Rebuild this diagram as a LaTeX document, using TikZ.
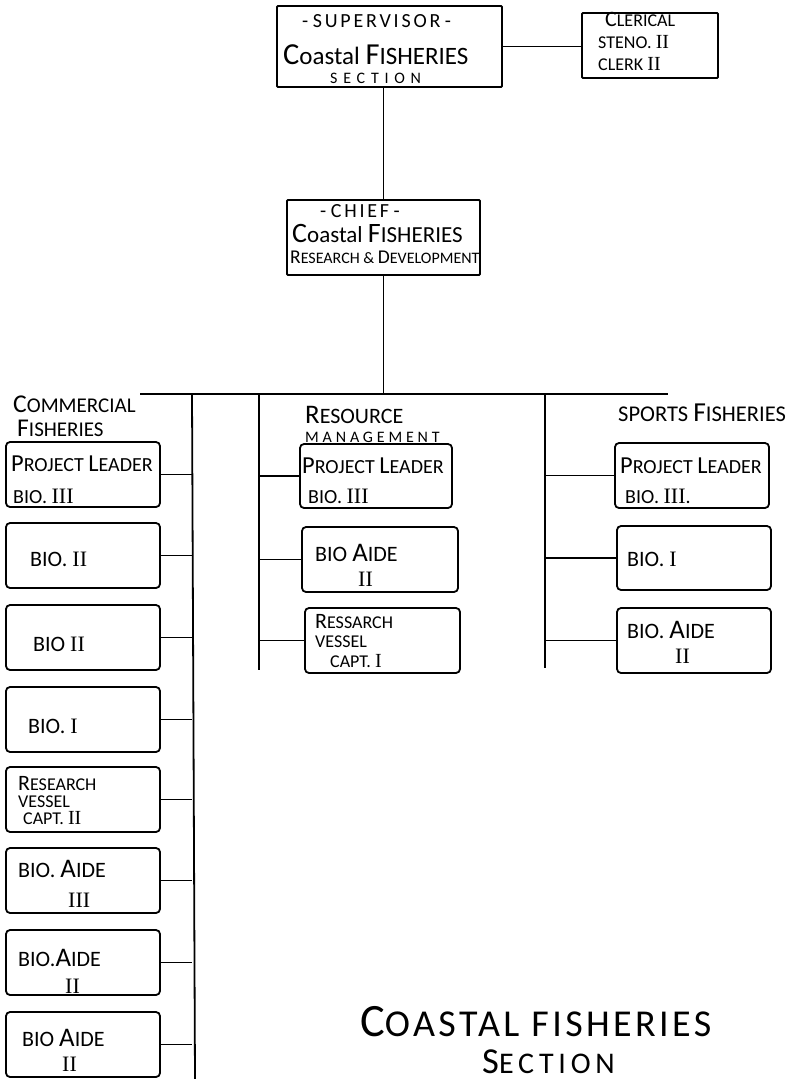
\documentclass[tikz,border=0pt]{standalone}
\usepackage{fontspec}
\usepackage{graphicx}
\setmainfont{Carlito}
\newfontfamily\numfont{Liberation Serif}
\newcommand\BI[1]{\scalebox{1.22}{#1}}
\newcommand\RN[1]{{\numfont\fontsize{22}{22}\selectfont #1}}
\newcommand\RNs[1]{{\numfont\fontsize{20}{20}\selectfont #1}}
\newcommand\LS[2]{{\addfontfeature{LetterSpace=#1}#2}}
\begin{document}
\begin{tikzpicture}[x=1pt,y=-1pt,
  ln/.style={line width=1.8pt},
  box/.style={draw, line width=1.8pt, rounded corners=4pt, inner sep=0pt},
  sqbox/.style={draw, line width=1.8pt, rounded corners=1pt, inner sep=0pt},
  tx/.style={anchor=west, inner sep=0pt, text height=12pt, text depth=0pt, font=\fontsize{20}{22}\selectfont},
  bt/.style={anchor=west, inner sep=0pt, text height=13pt, text depth=0pt, font=\fontsize{22}{24}\selectfont},
  sm/.style={anchor=west, inner sep=0pt, text height=11pt, text depth=0pt, font=\fontsize{18}{20}\selectfont},
  hd/.style={anchor=west, inner sep=0pt, text height=12pt, text depth=0pt, font=\fontsize{21}{23}\selectfont},
  ttl/.style={anchor=west, inner sep=0pt, text height=25pt, text depth=0pt, font=\fontsize{38}{40}\selectfont}]
\path[fill=white] (0,0) rectangle (793,1079);
\clip (0,0) rectangle (793,1079);

% top boxes
\node[sqbox, minimum width=225, minimum height=81] (sup) at (389.5,46.5) {};
\node[sqbox, minimum width=136, minimum height=65] (cler) at (650,45.5) {};
\node[sqbox, minimum width=193, minimum height=75] (chief) at (383.5,237.5) {};

\node[tx] (s1) at (302,21) {- \LS{14}{SUPERVISOR} -};
\node[tx, text height=15pt, font=\fontsize{25}{27}\selectfont] (s2) at (283,57) {\BI{C}oastal \BI{F}ISHERIES};
\node[sm, text height=9pt, font=\fontsize{16}{18}\selectfont] (s3) at (330,79) {\LS{36}{SECTION}};

\node[sm] (c1) at (605,21) {\BI{C}LERICAL};
\node[sm] (c2) at (598,43) {STENO. \RNs{II}};
\node[sm] (c3) at (598,65) {CLERK \RNs{II}};

\node[tx] (h1) at (320,211) {- \LS{14}{CHIEF} -};
\node[tx, text height=14pt, font=\fontsize{23}{25}\selectfont] (h2) at (292,235) {\BI{C}oastal \BI{F}ISHERIES};
\node[sm, text height=10pt, font=\fontsize{16}{18}\selectfont] (h3) at (290,258) {\BI{R}ESEARCH \& \BI{D}EVELOPMENT};

% connectors top
\draw[ln] (sup.east) -- (sup.east -| cler.west);
\draw[ln] (sup.south -| chief.north) -- (chief.north);
\coordinate (barL) at (140,394);
\coordinate (barR) at (668,394);
\coordinate (barC) at (383.5,394);
\draw[ln] (barL) -- (barR);
\draw[ln] (chief.south) -- (barC);

% spines
\coordinate (ls0) at (192,394);
\coordinate (ls1) at (195,1079);
\coordinate (ms0) at (259,394);
\coordinate (ms1) at (259,670);
\coordinate (rs0) at (545,394);
\coordinate (rs1) at (545,668);
\draw[ln] (ls0) -- (ls1);
\draw[ln] (ms0) -- (ms1);
\draw[ln] (rs0) -- (rs1);

% headers
\node[hd] (hc1) at (13,406) {\BI{C}OMMERCIAL};
\node[hd] (hc2) at (17,430) {\BI{F}ISHERIES};
\node[hd, font=\fontsize{22}{24}\selectfont] (hm1) at (305,417) {\BI{R}ESOURCE};
\node[hd, text height=10pt, font=\fontsize{16}{18}\selectfont] (hm2) at (305,437) {\LS{24}{MANAGEMENT}};
\node[hd, font=\fontsize{22.5}{24}\selectfont] (hr1) at (618,415) {SPORTS \BI{F}ISHERIES};

% left column
\foreach \n/\y in {1/474.5,2/555.5,3/637.5,4/719.5,5/799.5,6/880.5,7/962.5,8/1044.5}{
  \node[box, minimum width=154, minimum height=65] (L\n) at (83,\y) {};
  \draw[ln] (L\n.east) -- (L\n.east -| ls0);
}
\node[tx] at (11,465) {\BI{P}ROJECT \BI{L}EADER};
\node[tx] at (13,497) {BIO. \RN{III}};
\node[bt] at (30,560) {BIO. \RN{II}};
\node[bt] at (33,645) {BIO \RN{II}};
\node[bt] at (28,727) {BIO. \RN{I}};
\node[sm] at (18,785) {\BI{R}ESEARCH};
\node[sm] at (18,802) {VESSEL};
\node[sm] at (23,819) {CAPT. \RNs{II}};
\node[bt] at (18,871) {BIO. \BI{A}IDE};
\node[bt] at (68,901) {\RN{III}};
\node[bt] at (18,960) {BIO.\BI{A}IDE};
\node[bt] at (65,987) {\RN{II}};
\node[bt] at (22,1040) {BIO \BI{A}IDE};
\node[bt] at (62,1065) {\RN{II}};

% middle column
\node[box, minimum width=152, minimum height=64] (M1) at (376,476) {};
\node[box, minimum width=156, minimum height=65] (M2) at (380,559.5) {};
\node[box, minimum width=155, minimum height=65] (M3) at (382.5,640.5) {};
\foreach \n in {1,2,3}{\draw[ln] (M\n.west) -- (M\n.west -| ms0);}
\node[tx] at (302,467) {\BI{P}ROJECT \BI{L}EADER};
\node[tx] at (308,497) {BIO. \RN{III}};
\node[bt] at (315,555) {BIO \BI{A}IDE};
\node[bt] at (358,580) {\RN{II}};
\node[sm] at (315,623) {\BI{R}ESSARCH};
\node[sm] at (315,642) {VESSEL};
\node[sm] at (330,662) {CAPT. \RNs{I}};

% right column
\node[box, minimum width=154, minimum height=65] (R1) at (692,475.5) {};
\node[box, minimum width=154, minimum height=64] (R2) at (694,558) {};
\node[box, minimum width=154, minimum height=65] (R3) at (694,640.5) {};
\foreach \n in {1,2,3}{\draw[ln] (R\n.west) -- (R\n.west -| rs0);}
\node[tx] at (620,467) {\BI{P}ROJECT \BI{L}EADER};
\node[tx] at (625,497) {BIO. \RN{III}.};
\node[bt] at (627,560) {BIO. \RN{I}};
\node[bt] at (627,632) {BIO. \BI{A}IDE};
\node[bt] at (675,657) {\RN{II}};

% title
\node[ttl] (T1) at (360,1024) {\LS{9}{\BI{C}OASTAL FISHERIES}};
\node[ttl, anchor=base west, text height=20pt, font=\fontsize{30}{32}\selectfont] (T2) at (482,1073) {\LS{16}{\BI{S}ECTION}};
\end{tikzpicture}
\end{document}
